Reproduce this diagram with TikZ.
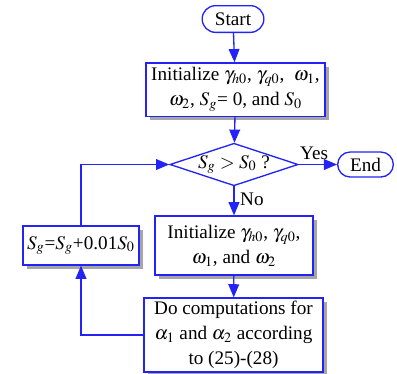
\documentclass[tikz,border=0pt]{standalone}
\usepackage{mathptmx}
\usepackage{fontspec}
\setmainfont{Liberation Serif}
\usepackage{tikz}
\usetikzlibrary{shapes.misc, shapes.geometric, shadows, arrows}
\definecolor{flowblue}{RGB}{35,35,245}

\begin{document}
\begin{tikzpicture}[x=0.6pt,y=-0.6pt,
	font=\fontsize{11.5}{15}\selectfont,
	box/.style={draw=flowblue, line width=0.8pt, fill=white, align=center, inner sep=1pt,
		drop shadow={shadow xshift=2.2pt, shadow yshift=-2.2pt, fill=black!35, opacity=1}},
	term/.style={draw=flowblue, line width=0.8pt, fill=white, rounded rectangle, inner sep=1pt},
	flow/.style={draw=flowblue, line width=0.8pt, -triangle 45}]
	\useasboundingbox (0,0) rectangle (397,373);
	\node[term, minimum width=39pt, minimum height=16pt] (start) at (233,19) {Start};
	\node[box, minimum width=107.4pt, minimum height=32pt] (init) at (235.5,89.5)
	{Initialize $\gamma_{h0}$, $\gamma_{q0}$,\ \ $\omega_1$,\\ $\omega_2$, $S_g$= 0, and $S_0$};
	\node[draw=flowblue, line width=0.8pt, diamond, aspect=3, inner sep=0pt,
	minimum width=77pt, minimum height=24.6pt] (test) at (234,164.5) {$S_g > S_0$ ?};
	\node[term, minimum width=35.4pt, minimum height=15pt] (stop) at (365.5,164.5) {End};
	\node[box, minimum width=94.8pt, minimum height=35.4pt] (reinit) at (234,245.5)
	{Initialize $\gamma_{h0}$, $\gamma_{q0}$,\\ $\omega_1$, and $\omega_2$};
	\node[box, minimum width=107.4pt, minimum height=44.4pt] (compute) at (233.5,335)
	{Do computations for\\ $\alpha_1$ and $\alpha_2$ according\\ to (25)-(28)};
	\node[box, minimum width=69.6pt, minimum height=23.4pt] (update) at (81,245.5)
	{$S_g$=$S_g$+0.01$S_0$};
	\draw[flow] (start) -- (init);
	\draw[flow] (init) -- (test);
	\draw[flow] (test) -- node[above, pos=0.4, yshift=-1pt] {Yes} (stop);
	\draw[flow] (test) -- node[right, pos=0.45] {No} (reinit);
	\draw[flow] (reinit) -- (compute);
	\draw[flow] (compute.west) -| (update.south);
	\draw[flow] (update.north) |- (test.west);
\end{tikzpicture}
\end{document}
